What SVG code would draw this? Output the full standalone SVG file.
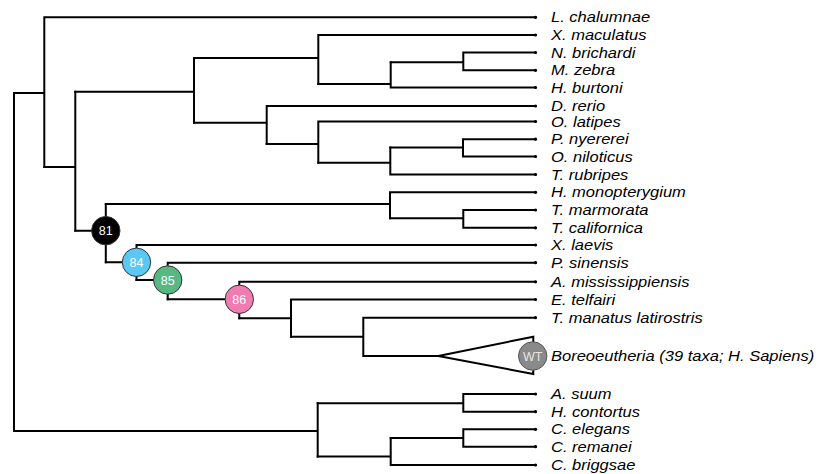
<svg xmlns="http://www.w3.org/2000/svg" width="819" height="474" viewBox="0 0 819 474">
<style>
.e{stroke:#000;stroke-width:2;stroke-linecap:square;fill:none}
.tip{fill:#000}
.lab{font-family:"Liberation Sans",Arial,sans-serif;font-style:italic;font-size:14px;fill:#000}
.nc{stroke:#333;stroke-width:1}
.nt{font-family:"Liberation Sans",Arial,sans-serif;font-size:12.5px;fill:#fff;text-anchor:middle}
</style>
<rect width="819" height="474" fill="#fff"/>
<g id="connectors">
<path class="e" d="M14,93V431"/>
<path class="e" d="M14,93H44.3M44.3,17.3V167M44.3,17.3H535.5"/>
<path class="e" d="M44.3,167H75.3M75.3,91.7V230.7"/>
<path class="e" d="M75.3,91.7H194M194,58V122.7"/>
<path class="e" d="M194,58H318.3M318.3,35V84M318.3,35H535.5"/>
<path class="e" d="M318.3,84H390.7M390.7,62.3V87.5M390.7,87.5H535.5"/>
<path class="e" d="M390.7,62.3H463.3M463.3,52.5V70.3M463.3,52.5H535.5M463.3,70.3H535.5"/>
<path class="e" d="M194,122.7H266.7M266.7,106V144M266.7,106H535.5"/>
<path class="e" d="M266.7,144H318.3M318.3,121.5V162.7M318.3,121.5H535.5"/>
<path class="e" d="M318.3,162.7H390.3M390.3,147.5V174.5M390.3,174.5H535.5"/>
<path class="e" d="M390.3,147.5H463M463,139.2V156.5M463,139.2H535.5M463,156.5H535.5"/>
<path class="e" d="M75.3,230.7H105.8M105.8,204V262.3"/>
<path class="e" d="M105.8,204H390M390,192.3V218.3M390,192.3H535.5"/>
<path class="e" d="M390,218.3H463.3M463.3,210V227.8M463.3,210H535.5M463.3,227.8H535.5"/>
<path class="e" d="M105.8,262.3H136.5M136.5,245V280M136.5,245H535.5"/>
<path class="e" d="M136.5,280H167.7M167.7,262.7V299.3M167.7,262.7H535.5"/>
<path class="e" d="M167.7,299.3H239.3M239.3,281.8V318.3M239.3,281.8H535.5"/>
<path class="e" d="M239.3,318.3H291M291,299.5V336.7M291,299.5H535.5"/>
<path class="e" d="M291,336.7H363.3M363.3,317.7V356M363.3,317.7H535.5M363.3,356H438.3"/>
<polygon points="438.3,356 533.3,336.7 533.3,374" fill="#fff" stroke="#000" stroke-width="2" stroke-linejoin="miter"/>
<path class="e" d="M14,431H317.7M317.7,403.3V456.5"/>
<path class="e" d="M317.7,403.3H463.3M463.3,394V411.7M463.3,394H535.5M463.3,411.7H535.5"/>
<path class="e" d="M317.7,456.5H390.7M390.7,438V465M390.7,465H535.5"/>
<path class="e" d="M390.7,438H463.3M463.3,429.3V446.7M463.3,429.3H535.5M463.3,446.7H535.5"/>
</g>
<g id="tips">
<circle class="tip" cx="535.5" cy="17.3" r="1.6"/>
<circle class="tip" cx="535.5" cy="35" r="1.6"/>
<circle class="tip" cx="535.5" cy="52.5" r="1.6"/>
<circle class="tip" cx="535.5" cy="70.3" r="1.6"/>
<circle class="tip" cx="535.5" cy="87.5" r="1.6"/>
<circle class="tip" cx="535.5" cy="106" r="1.6"/>
<circle class="tip" cx="535.5" cy="121.5" r="1.6"/>
<circle class="tip" cx="535.5" cy="139.2" r="1.6"/>
<circle class="tip" cx="535.5" cy="156.5" r="1.6"/>
<circle class="tip" cx="535.5" cy="174.5" r="1.6"/>
<circle class="tip" cx="535.5" cy="192.3" r="1.6"/>
<circle class="tip" cx="535.5" cy="210" r="1.6"/>
<circle class="tip" cx="535.5" cy="227.8" r="1.6"/>
<circle class="tip" cx="535.5" cy="245" r="1.6"/>
<circle class="tip" cx="535.5" cy="262.7" r="1.6"/>
<circle class="tip" cx="535.5" cy="281.8" r="1.6"/>
<circle class="tip" cx="535.5" cy="299.5" r="1.6"/>
<circle class="tip" cx="535.5" cy="317.7" r="1.6"/>
<circle class="tip" cx="535.5" cy="394" r="1.6"/>
<circle class="tip" cx="535.5" cy="411.7" r="1.6"/>
<circle class="tip" cx="535.5" cy="429.3" r="1.6"/>
<circle class="tip" cx="535.5" cy="446.7" r="1.6"/>
<circle class="tip" cx="535.5" cy="465" r="1.6"/>
</g>
<g id="labels" transform="translate(551,0) scale(1.18,1)">
<text class="lab" x="0" y="22.4">L. chalumnae</text>
<text class="lab" x="0" y="40.1">X. maculatus</text>
<text class="lab" x="0" y="57.6">N. brichardi</text>
<text class="lab" x="0" y="75.4">M. zebra</text>
<text class="lab" x="0" y="92.6">H. burtoni</text>
<text class="lab" x="0" y="111.1">D. rerio</text>
<text class="lab" x="0" y="126.6">O. latipes</text>
<text class="lab" x="0" y="144.3">P. nyererei</text>
<text class="lab" x="0" y="161.6">O. niloticus</text>
<text class="lab" x="0" y="179.6">T. rubripes</text>
<text class="lab" x="0" y="197.4">H. monopterygium</text>
<text class="lab" x="0" y="215.1">T. marmorata</text>
<text class="lab" x="0" y="232.9">T. californica</text>
<text class="lab" x="0" y="250.1">X. laevis</text>
<text class="lab" x="0" y="267.8">P. sinensis</text>
<text class="lab" x="0" y="286.9">A. mississippiensis</text>
<text class="lab" x="0" y="304.6">E. telfairi</text>
<text class="lab" x="0" y="322.8">T. manatus latirostris</text>
<text class="lab" x="0" y="361.1">Boreoeutheria (39 taxa; H. Sapiens)</text>
<text class="lab" x="0" y="399.1">A. suum</text>
<text class="lab" x="0" y="416.8">H. contortus</text>
<text class="lab" x="0" y="434.4">C. elegans</text>
<text class="lab" x="0" y="451.8">C. remanei</text>
<text class="lab" x="0" y="470.1">C. briggsae</text>
</g>
<g id="node81"><circle class="nc" cx="105.8" cy="230.7" r="14.2" fill="#000"/><text class="nt" x="105.8" y="235.2">81</text></g>
<g id="node84"><circle class="nc" cx="136.5" cy="262.3" r="14.2" fill="#5BC8F4"/><text class="nt" x="136.5" y="266.8">84</text></g>
<g id="node85"><circle class="nc" cx="167.7" cy="280" r="14.2" fill="#57B882"/><text class="nt" x="167.7" y="284.5">85</text></g>
<g id="node86"><circle class="nc" cx="239.3" cy="299.3" r="14.2" fill="#F07CB2"/><text class="nt" x="239.3" y="303.8">86</text></g>
<g id="nodeWT"><circle cx="532.7" cy="356" r="14.2" fill="#8A8A8A" stroke="#555" stroke-width="1"/><text class="nt" x="532.7" y="360.5" style="fill:#e6e6e6">WT</text></g>
</svg>
